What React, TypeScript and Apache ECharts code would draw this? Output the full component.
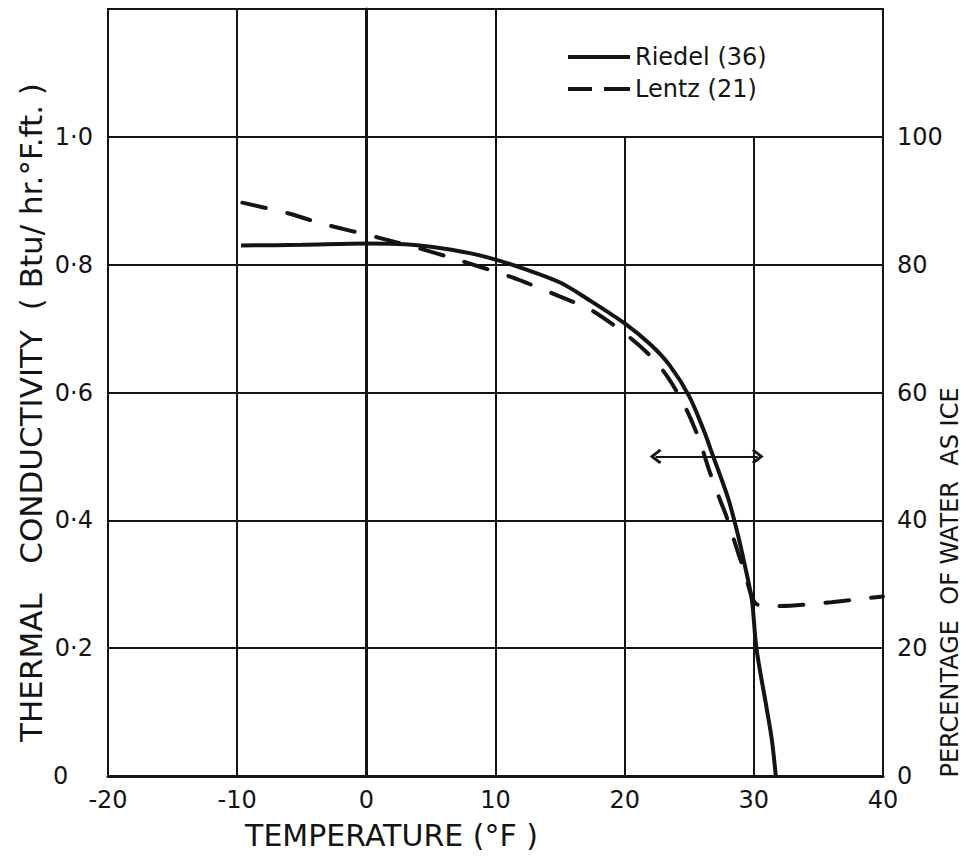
import React, { useEffect, useRef } from 'react';
import * as echarts from 'echarts';

// Temperature axis (°F)
const tempTicks = [-20, -10, 0, 10, 20, 30, 40];
// Left axis tick labels (thermal conductivity)
const kTickLabels = ['0', '0·2', '0·4', '0·6', '0·8', '1·0'];
// Right axis tick labels (percentage of water as ice)
const iceTickLabels = ['0', '20', '40', '60', '80', '100'];

// Riedel (36) — solid curve
const riedelT = [-9.7, -5, 0, 3, 5, 8, 10, 12, 15, 17.3, 20, 22, 23.5, 25, 26.1, 26.8, 28, 28.7, 29.3, 29.85, 30.2, 31, 31.4, 31.7];
const riedelK = [0.83, 0.831, 0.833, 0.832, 0.828, 0.818, 0.808, 0.795, 0.772, 0.744, 0.708, 0.675, 0.642, 0.594, 0.542, 0.503, 0.435, 0.383, 0.33, 0.275, 0.2, 0.105, 0.056, 0];

// Lentz (21) — dashed curve
const lentzT = [-9.6, -6, -3.4, 1, 4, 7, 11.3, 15, 17.5, 20.4, 22.2, 23.4, 24.7, 25.7, 26.6, 27.4, 27.9, 28.8, 29.2, 29.85, 30.3, 32, 36, 40];
const lentzK = [0.897, 0.88, 0.864, 0.842, 0.826, 0.808, 0.78, 0.75, 0.728, 0.686, 0.653, 0.622, 0.577, 0.53, 0.475, 0.431, 0.405, 0.348, 0.325, 0.28, 0.268, 0.266, 0.272, 0.281];

// Double-headed arrow
const arrowT = [22.4, 30.3];
const arrowK = 0.5;

// Vertical grid lines: full height, and those stopping at 1.0 (legend area)
const fullGridT = [-10, 0, 10];
const shortGridT = [20, 30];

const seriesNames = ['Riedel (36)', 'Lentz (21)'];

export default function App() {
  const ref = useRef<HTMLDivElement>(null);

  useEffect(() => {
    const chart = echarts.init(ref.current!, null, { renderer: 'svg' });
    const font = 'DejaVu Sans';
    const ink = '#141414';
    const chevron = 'path://M10,0 L20,10 L17.6,12.4 L10,4.8 L2.4,12.4 L0,10 Z';
    const solidIcon = 'path://M0,0 L62,0 L62,4 L0,4 Z';
    const dashIcon = 'path://M0,0 L24,0 L24,4 L0,4 Z M36,0 L62,0 L62,4 L36,4 Z';

    const kFormatter = (v: number) => {
      const i = Math.round(v / 0.2);
      if (i >= kTickLabels.length) return '';
      return i === 0 ? '{z|' + kTickLabels[0] + '}' : kTickLabels[i];
    };
    const iceFormatter = (v: number) => {
      const i = Math.round(v / 20);
      if (i >= iceTickLabels.length) return '';
      return iceTickLabels[i];
    };

    chart.setOption({
      animation: false,
      backgroundColor: '#ffffff',
      textStyle: { fontFamily: font, color: ink },
      grid: {
        left: 108,
        right: 94,
        top: 9,
        bottom: 83,
        show: true,
        borderColor: ink,
        borderWidth: 2,
        outerBoundsMode: 'none',
      },
      legend: {
        data: [
          { name: seriesNames[0], icon: solidIcon },
          { name: seriesNames[1], icon: dashIcon },
        ],
        orient: 'vertical',
        left: 563,
        top: 40,
        itemWidth: 62,
        itemHeight: 4,
        itemGap: 8,
        textStyle: { fontSize: 24, color: ink, fontFamily: font },
        selectedMode: false,
      },
      xAxis: {
        type: 'value',
        min: tempTicks[0],
        max: tempTicks[tempTicks.length - 1],
        interval: 10,
        splitLine: { show: false },
        axisTick: { show: false },
        axisLine: { show: true, lineStyle: { color: ink, width: 3 } },
        axisLabel: { fontSize: 24, color: ink, margin: 12, fontFamily: font },
        name: 'TEMPERATURE (°F )',
        nameLocation: 'middle',
        nameGap: 44,
        nameMoveOverlap: false,
        nameTextStyle: { fontSize: 30, color: ink, fontFamily: font, padding: [0, 208, 0, 0] },
      },
      yAxis: [
        {
          type: 'value',
          min: 0,
          max: 1.2,
          interval: 0.2,
          position: 'left',
          splitLine: { show: true, lineStyle: { color: ink, width: 2 } },
          axisTick: { show: false },
          axisLine: { show: true, lineStyle: { color: ink, width: 3 } },
          axisLabel: {
            fontSize: 24,
            color: ink,
            margin: 15,
            fontFamily: font,
            formatter: kFormatter,
            rich: { z: { width: 40, align: 'left', fontSize: 24, fontFamily: font, color: ink } },
          },
          name: 'THERMAL   CONDUCTIVITY  ( Btu/ hr.°F.ft. )',
          nameLocation: 'middle',
          nameGap: 62,
          nameMoveOverlap: false,
          nameTextStyle: { fontSize: 31, color: ink, fontFamily: font, padding: [0, 40, 0, 0] },
        },
        {
          type: 'value',
          min: 0,
          max: 120,
          interval: 20,
          position: 'right',
          splitLine: { show: false },
          axisTick: { show: false },
          axisLine: { show: false },
          axisLabel: {
            fontSize: 24,
            color: ink,
            margin: 14,
            fontFamily: font,
            formatter: iceFormatter,
          },
          name: 'PERCENTAGE  OF WATER  AS ICE',
          nameLocation: 'middle',
          nameGap: 55,
          nameMoveOverlap: false,
          nameTextStyle: { fontSize: 24, color: ink, fontFamily: font, padding: [0, 380, 0, 0] },
        },
      ],
      series: [
        {
          name: 'grid',
          type: 'line',
          data: [],
          z: 1,
          silent: true,
          markLine: {
            silent: true,
            symbol: 'none',
            label: { show: false },
            emphasis: { disabled: true },
            lineStyle: { color: ink, width: 2, type: 'solid' },
            data: [
              ...fullGridT.map((t) => [{ coord: [t, 0] }, { coord: [t, 1.2] }]),
              ...shortGridT.map((t) => [{ coord: [t, 0] }, { coord: [t, 1.0] }]),
            ],
          },
        },
        {
          name: seriesNames[0],
          type: 'line',
          data: riedelT.map((t, i) => [t, riedelK[i]]),
          symbol: 'none',
          smooth: 0.3,
          z: 3,
          lineStyle: { color: ink, width: 4 },
          itemStyle: { color: ink },
          markLine: {
            silent: true,
            symbol: [chevron, chevron],
            symbolSize: [15, 12],
            label: { show: false },
            emphasis: { disabled: true },
            lineStyle: { color: ink, width: 2, type: 'solid' },
            data: [[{ coord: [arrowT[0], arrowK] }, { coord: [arrowT[1], arrowK] }]],
          },
        },
        {
          name: seriesNames[1],
          type: 'line',
          data: lentzT.map((t, i) => [t, lentzK[i]]),
          symbol: 'none',
          smooth: 0.3,
          z: 3,
          lineStyle: { color: ink, width: 4, type: [24, 22], cap: 'round' },
          itemStyle: { color: ink },
        },
      ],
    });

    return () => chart.dispose();
  }, []);

  return (
    <div
      ref={ref}
      style={{ position: 'fixed', left: 0, top: 0, width: 977, height: 859, background: '#fff' }}
    />
  );
}
